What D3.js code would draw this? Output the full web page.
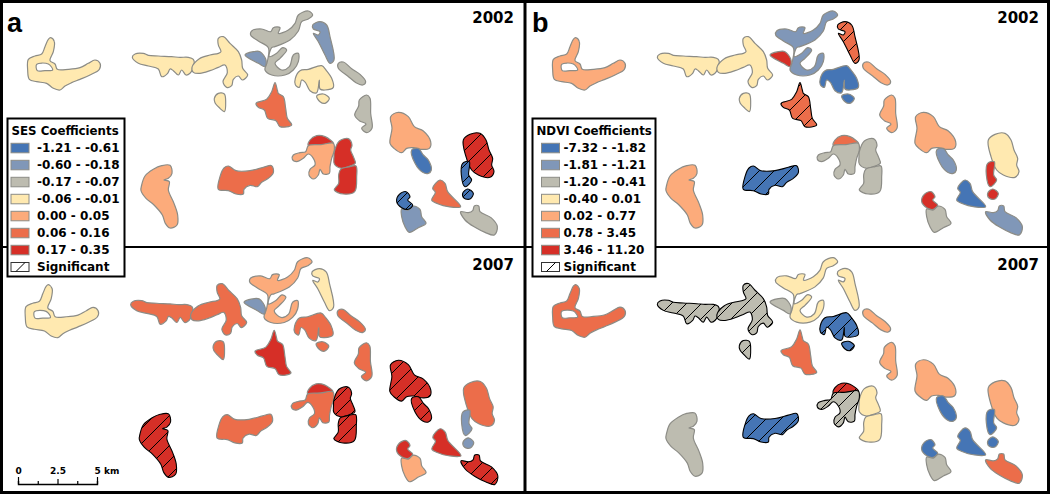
<!DOCTYPE html>
<html>
<head>
<meta charset="utf-8">
<script src="https://cdnjs.cloudflare.com/ajax/libs/d3/7.8.5/d3.min.js"></script>
<style>
  html, body { margin: 0; padding: 0; background: #fff; }
  svg { display: block; }
  text { font-family: "DejaVu Sans", sans-serif; font-weight: bold; fill: #000; }
</style>
</head>
<body>
<svg></svg>
<script>
// class colours, low to high
const classColors = ['#4575b5', '#8097b8', '#bdbcb0', '#ffe9b0', '#fcab7b', '#ec6d4a', '#d62f27'];
const sesLabels = ['-1.21 - -0.61', '-0.60 - -0.18', '-0.17 - -0.07', '-0.06 - -0.01', '0.00 - 0.05', '0.06 - 0.16', '0.17 - 0.35'];
const ndviLabels = ['-7.32 - -1.82', '-1.81 - -1.21', '-1.20 - -0.41', '-0.40 - 0.01', '0.02 - 0.77', '0.78 - 3.45', '3.46 - 11.20'];
const scaleTicks = [0, 1.25, 2.5, 3.75, 5];

// one outline per patch, in map units of the reference
const outlines = [
  [[152,113],[163,125],[160,155],[150,182],[165,192],[172,208],[205,208],[240,203],[265,190],[285,180],[300,190],[298,208],[270,225],[240,238],[215,248],[195,258],[180,270],[160,265],[140,250],[110,245],[88,238],[83,210],[85,178],[105,168],[125,162],[135,140],[145,118]],
  [[397,172],[405,162],[430,160],[445,166],[475,168],[515,170],[540,172],[565,172],[580,178],[583,190],[578,208],[570,220],[558,225],[545,210],[535,225],[520,212],[510,207],[503,220],[485,230],[475,207],[445,198],[415,190]],
  [[655,115],[670,110],[690,130],[715,155],[725,180],[728,205],[743,225],[727,240],[715,228],[700,238],[695,257],[680,262],[669,245],[682,218],[675,195],[655,202],[630,212],[600,220],[580,217],[576,202],[598,176],[630,165],[655,160],[663,155],[655,135]],
  [[643,295],[655,280],[673,282],[677,305],[673,335],[660,325],[645,308]],
  [[925,33],[938,45],[925,57],[905,65],[895,93],[870,120],[825,140],[815,143],[808,170],[830,160],[848,143],[860,150],[840,175],[825,190],[845,210],[868,200],[880,165],[895,160],[895,185],[880,210],[855,225],[815,225],[795,210],[802,185],[805,143],[775,123],[752,105],[755,93],[785,87],[812,95],[820,83],[840,83],[835,100],[865,90],[885,70],[895,45]],
  [[735,165],[760,155],[780,155],[798,180],[795,200],[775,190]],
  [[938,75],[960,65],[980,75],[990,110],[1002,180],[990,190],[975,165],[955,125],[940,100],[955,105],[960,95],[940,87]],
  [[1015,190],[1030,186],[1055,206],[1080,223],[1097,245],[1088,255],[1068,248],[1043,228],[1015,205]],
  [[886,235],[900,212],[925,208],[965,197],[978,210],[995,235],[1000,262],[975,270],[960,267],[958,240],[950,278],[930,272],[916,247],[905,240],[898,262],[886,254]],
  [[950,288],[970,282],[988,295],[975,310],[960,305]],
  [[825,248],[832,270],[835,280],[850,290],[857,325],[862,355],[875,375],[840,380],[828,362],[803,355],[793,330],[775,322],[768,310],[800,298],[815,275]],
  [[1100,285],[1110,295],[1112,340],[1116,385],[1100,398],[1085,385],[1098,372],[1078,362],[1064,345],[1076,318],[1078,300]],
  [[1172,350],[1195,337],[1225,350],[1243,380],[1270,393],[1292,425],[1288,445],[1262,448],[1240,443],[1220,445],[1205,458],[1182,445],[1170,430],[1176,385]],
  [[1235,450],[1255,445],[1270,465],[1285,480],[1294,510],[1285,520],[1268,517],[1245,490]],
  [[1390,420],[1410,403],[1440,400],[1458,420],[1467,450],[1478,475],[1475,495],[1482,515],[1470,532],[1435,525],[1415,510],[1398,470]],
  [[1388,490],[1408,485],[1406,525],[1415,540],[1395,560],[1384,525]],
  [[1388,580],[1403,567],[1420,580],[1410,597],[1393,595]],
  [[1298,565],[1320,540],[1335,550],[1343,575],[1382,620],[1345,620],[1315,612],[1295,600],[1306,577]],
  [[1198,583],[1218,575],[1230,590],[1223,600],[1238,615],[1225,628],[1205,623],[1190,605]],
  [[1205,627],[1225,630],[1240,618],[1260,628],[1265,650],[1278,670],[1255,683],[1228,697],[1215,680],[1205,650]],
  [[1382,635],[1405,638],[1418,632],[1423,618],[1436,618],[1440,635],[1473,653],[1492,680],[1483,705],[1455,697],[1425,682],[1395,660]],
  [[925,437],[930,420],[950,407],[975,410],[1000,430],[963,434]],
  [[925,437],[963,434],[1000,430],[1003,450],[995,475],[990,500],[988,520],[970,522],[960,508],[955,525],[940,537],[927,525],[930,508],[945,495],[940,475],[925,462],[910,475],[890,485],[877,478],[880,465],[900,458],[917,455]],
  [[1003,455],[1018,423],[1045,416],[1056,435],[1052,450],[1060,470],[1066,490],[1050,498],[1025,505],[1003,492],[1002,470]],
  [[1022,508],[1050,500],[1068,498],[1070,530],[1064,575],[1030,582],[1003,570],[1016,550],[1016,525]],
  [[655,568],[660,530],[672,504],[685,498],[708,512],[750,512],[790,502],[815,497],[820,518],[805,535],[785,547],[772,560],[750,556],[732,568],[730,582],[708,582],[685,572]],
  [[425,555],[435,528],[460,508],[485,497],[510,496],[516,520],[505,535],[492,540],[508,545],[505,570],[522,610],[533,645],[531,675],[510,684],[496,670],[487,645],[462,615],[438,595],[423,572]]
];
// the gap inside the western patch
const westHole = [[110,193],[145,192],[158,210],[135,212],[112,212]];

// class index of each patch, same order as outlines
const ses2002 = [3, 3, 3, 3, 2, 1, 1, 2, 3, 3, 5, 2, 4, 0, 6, 0, 0, 5, 0, 1, 2, 6, 4, 6, 6, 5, 4];
const ses2007 = [3, 5, 5, 5, 4, 1, 3, 5, 5, 5, 6, 5, 6, 6, 5, 1, 1, 6, 6, 4, 6, 6, 5, 6, 6, 5, 6];
const ndvi2002 = [4, 3, 3, 3, 1, 6, 5, 4, 0, 0, 5, 4, 4, 1, 3, 6, 6, 0, 6, 2, 1, 5, 2, 2, 2, 0, 4];
const ndvi2007 = [5, 2, 2, 2, 3, 2, 3, 4, 0, 0, 5, 4, 4, 0, 4, 0, 0, 0, 0, 2, 5, 6, 2, 3, 3, 0, 2];

// patches with a significant coefficient (hatched)
const sesSig2002 = [14, 15, 16, 18];
const sesSig2007 = [12, 13, 20, 23, 24, 26];
const ndviSig2002 = [6, 10, 25];
const ndviSig2007 = [1, 2, 3, 8, 9, 21, 22, 25];

const width = 1050;
const height = 494;
const svg = d3.select('svg')
  .attr('width', width)
  .attr('height', height);

svg.append('defs').append('pattern')
  .attr('id', 'hatch')
  .attr('patternUnits', 'userSpaceOnUse')
  .attr('width', 15)
  .attr('height', 15)
  .append('path')
  .attr('d', 'M-1,16L16,-1M-1,1L1,-1M14,16L16,14')
  .attr('stroke', '#000')
  .attr('stroke-width', 1);

const color = d3.scaleOrdinal(d3.range(7), classColors);

const panels = [
  { classes: ses2002, sig: sesSig2002, xr: [0, 525], yr: [0, 250], year: '2002', yearY: 23 },
  { classes: ses2007, sig: sesSig2007, xr: [-2.5, 525.7], yr: [246.6, 499.6], year: '2007', yearY: 270 },
  { classes: ndvi2002, sig: ndviSig2002, xr: [525, 1050], yr: [0, 250], year: '2002', yearY: 23 },
  { classes: ndvi2007, sig: ndviSig2007, xr: [525, 1050], yr: [246.6, 498.4], year: '2007', yearY: 270 }
];

const drawPanel = (p, i) => {
  const x = d3.scaleLinear().domain([0, 1575]).range(p.xr);
  const y = d3.scaleLinear().domain([0, 750]).range(p.yr);
  const line = d3.line()
    .x(d => x(d[0]))
    .y(d => y(d[1]))
    .curve(d3.curveCatmullRomClosed.alpha(0.5));
  const patchPath = (d, j) => line(d) + (j === 0 ? line(westHole) : '');

  const g = svg.append('g').attr('class', `panel-${i}`);
  const patches = outlines.map((d, j) => ({ d, j, sig: p.sig.includes(j) }))
    .sort((a, b) => a.sig - b.sig);

  g.selectAll('path.fill')
    .data(patches)
    .enter()
    .append('path')
    .attr('class', 'fill')
    .attr('d', d => patchPath(d.d, d.j))
    .attr('fill-rule', 'evenodd')
    .attr('fill', d => color(p.classes[d.j]))
    .attr('stroke', d => d.sig ? '#000' : '#8c8c86')
    .attr('stroke-width', d => d.sig ? 1.1 : 1.2);

  g.selectAll('path.hatch')
    .data(patches.filter(d => d.sig))
    .enter()
    .append('path')
    .attr('class', 'hatch')
    .attr('d', d => patchPath(d.d, d.j))
    .attr('fill', 'url(#hatch)');
};
panels.forEach(drawPanel);

panels.forEach((p, i) => {
  svg.append('text')
    .attr('x', p.xr[0] === 525 ? 1039 : 514)
    .attr('y', p.yearY)
    .attr('text-anchor', 'end')
    .attr('font-size', 15)
    .text(p.year);
});

// frame
const frame = svg.append('g').attr('fill', '#000');
frame.append('rect').attr('x', 0).attr('y', 0).attr('width', width).attr('height', 3);
frame.append('rect').attr('x', 0).attr('y', 491).attr('width', width).attr('height', 3);
frame.append('rect').attr('x', 0).attr('y', 0).attr('width', 3).attr('height', height);
frame.append('rect').attr('x', 1047).attr('y', 0).attr('width', 3).attr('height', height);
frame.append('rect').attr('x', 523.5).attr('y', 0).attr('width', 3).attr('height', height);
frame.append('rect').attr('x', 0).attr('y', 246).attr('width', width).attr('height', 2);

svg.append('text').attr('x', 7).attr('y', 32)
  .style('font-family', '"Liberation Sans", sans-serif')
  .attr('font-size', 27).text('a');
svg.append('text').attr('x', 532).attr('y', 32)
  .style('font-family', '"Liberation Sans", sans-serif')
  .attr('font-size', 27).text('b');

// legends
const drawLegend = (box, title, labels, swatchX, textX, titleX) => {
  const g = svg.append('g');
  g.append('rect')
    .attr('x', box[0])
    .attr('y', 118.5)
    .attr('width', box[1] - box[0])
    .attr('height', 158)
    .attr('fill', '#fff')
    .attr('stroke', '#000')
    .attr('stroke-width', 2);
  g.append('text').attr('x', titleX).attr('y', 134.5).attr('font-size', 11.8).text(title);
  const row = d3.scaleBand().domain(d3.range(8)).range([139.5, 275.5]);
  g.selectAll('rect.swatch')
    .data(labels)
    .enter()
    .append('rect')
    .attr('class', 'swatch')
    .attr('x', swatchX)
    .attr('y', (d, i) => row(i) + 3.8)
    .attr('width', 18)
    .attr('height', 9.5)
    .attr('fill', (d, i) => color(i))
    .attr('stroke', '#8c8c86');
  g.selectAll('text.label')
    .data(labels)
    .enter()
    .append('text')
    .attr('class', 'label')
    .attr('x', textX)
    .attr('y', (d, i) => row(i) + 12.5)
    .attr('font-size', 12)
    .text(d => d);
  g.append('rect')
    .attr('x', swatchX)
    .attr('y', row(7) + 4)
    .attr('width', 18)
    .attr('height', 9)
    .attr('fill', '#fff')
    .attr('stroke', '#333');
  g.append('line')
    .attr('x1', swatchX + 5)
    .attr('y1', row(7) + 13)
    .attr('x2', swatchX + 14)
    .attr('y2', row(7) + 4)
    .attr('stroke', '#000');
  g.append('text').attr('x', textX).attr('y', row(7) + 12.5).attr('font-size', 12).text('Significant');
};
drawLegend([7.5, 124.5], 'SES Coefficients', sesLabels, 11, 37, 11.5);
drawLegend([532.5, 655.5], 'NDVI Coefficients', ndviLabels, 541.5, 563.5, 536.5);

// scale bar
const km = d3.scaleLinear().domain([0, 5]).range([18, 97]);
const scaleBar = svg.append('g')
  .attr('transform', 'translate(0,484)')
  .call(d3.axisTop(km)
    .tickValues(scaleTicks)
    .tickSizeOuter(0)
    .tickSize(3)
    .tickPadding(7)
    .tickFormat(d => (d === 5 ? '5 km' : (d === 1.25 || d === 3.75 ? '' : d))));
scaleBar.select('.domain').attr('stroke', '#000').attr('stroke-width', 1.4);
scaleBar.selectAll('.tick line')
  .attr('stroke', '#000')
  .attr('stroke-width', 1.2)
  .attr('y2', d => (d === 0 || d === 5 ? -7 : d === 2.5 ? -5 : -3));
scaleBar.selectAll('.tick text')
  .attr('fill', '#000')
  .style('font-family', '"DejaVu Sans", sans-serif')
  .style('font-size', '9px')
  .attr('y', -10)
  .attr('text-anchor', d => (d === 5 ? 'start' : 'middle'))
  .attr('dx', d => (d === 5 ? -3 : 0));
</script>
</body>
</html>
